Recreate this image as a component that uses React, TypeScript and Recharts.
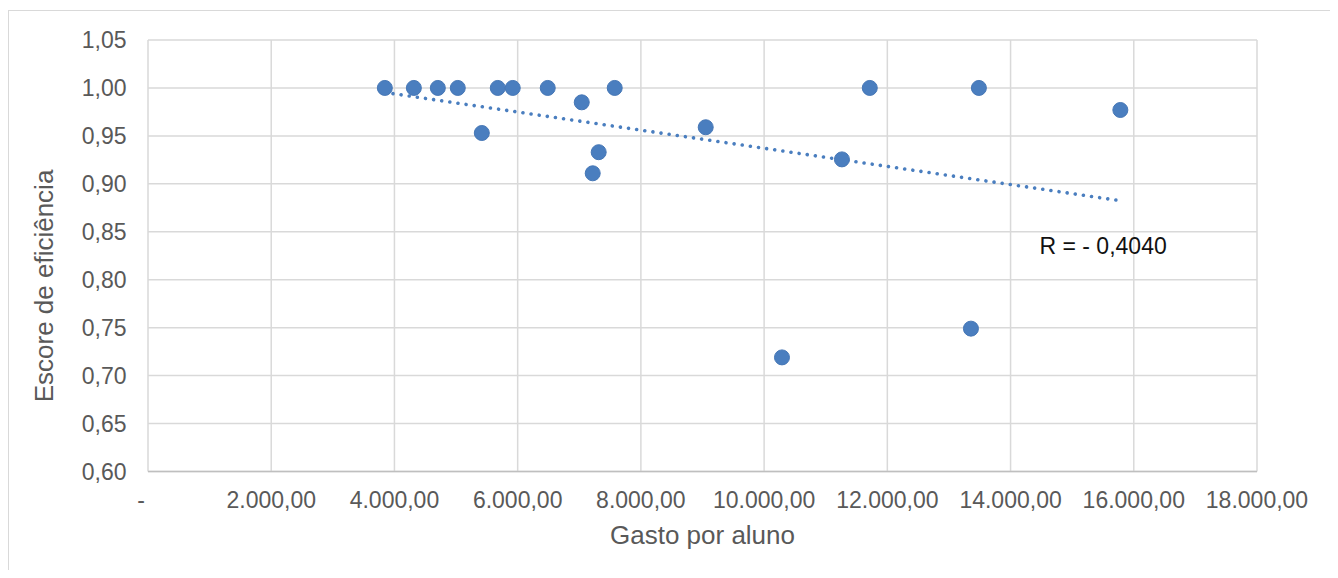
import React from 'react';
import {
  ScatterChart,
  Scatter,
  XAxis,
  YAxis,
  CartesianGrid,
  ReferenceDot,
} from 'recharts';

// Gasto por aluno (x) e escore de eficiência (y)
const gastoPorAluno = [
  3844, 4315, 4704, 5028, 5418, 5677, 5920, 6488, 7040, 7218, 7315, 7575,
  9052, 10290, 11263, 11715, 13357, 13486, 15782,
];
const escoreEficiencia = [
  1.0, 1.0, 1.0, 1.0, 0.953, 1.0, 1.0, 1.0, 0.985, 0.911, 0.933, 1.0,
  0.959, 0.719, 0.9255, 1.0, 0.749, 1.0, 0.977,
];

// Linha de tendência (extremos)
const trendX = [3844, 15782];
const trendY = [0.9953, 0.8824];

const xTicks = [0, 2000, 4000, 6000, 8000, 10000, 12000, 14000, 16000, 18000];
const yTicks = [0.6, 0.65, 0.7, 0.75, 0.8, 0.85, 0.9, 0.95, 1.0, 1.05];

const rLabelText = 'R = - 0,4040';
const rLabelPos = { x: 14470, y: 0.827 };

const xTitle = 'Gasto por aluno';
const yTitle = 'Escore de eficiência';

const points = gastoPorAluno.map((x, i) => ({ x, y: escoreEficiencia[i] }));
const trend = trendX.map((x, i) => ({ x, y: trendY[i] }));

const FONT = '"Liberation Sans", Arial, sans-serif';
const TXT = '#595959';
const BLUE = '#4a7ebf';

const fmtX = (v: number) => {
  if (v === 0) return '-';
  const s = Math.round(v).toString().replace(/\B(?=(\d{3})+(?!\d))/g, '.');
  return s + ',00';
};
const fmtY = (v: number) => v.toFixed(2).replace('.', ',');

const XTick = (props: any) => {
  const { x, y, payload } = props;
  const v = payload.value as number;
  return (
    <text
      x={x + (v === 0 ? -7 : 0)}
      y={y + 36.5}
      textAnchor="middle"
      fontFamily={FONT}
      fontSize={23}
      fill={TXT}
    >
      {fmtX(v)}
    </text>
  );
};

const YTick = (props: any) => {
  const { x, y, payload } = props;
  return (
    <text
      x={x - 21.5}
      y={y + 8.2}
      textAnchor="end"
      fontFamily={FONT}
      fontSize={23}
      fill={TXT}
    >
      {fmtY(payload.value)}
    </text>
  );
};

const XTitle = (props: any) => {
  const vb = props.viewBox || {};
  return (
    <text
      x={vb.x + vb.width / 2}
      y={536}
      textAnchor="middle"
      fontFamily={FONT}
      fontSize={26}
      fill={TXT}
    >
      {xTitle}
    </text>
  );
};

const YTitle = () => {
  const cx = 45.3;
  const cy = 278;
  return (
    <text
      x={cx}
      y={cy}
      transform={`rotate(-90 ${cx} ${cy})`}
      textAnchor="middle"
      fontFamily={FONT}
      fontSize={26}
      fill={TXT}
    >
      {yTitle}
    </text>
  );
};

const Dot = (props: any) => {
  const { cx, cy } = props;
  return <circle cx={cx} cy={cy} r={7.5} fill={BLUE} stroke="#4677b6" strokeWidth={1} />;
};

const NoShape = () => <g />;

const RLabel = (props: any) => {
  const { cx, cy } = props;
  return (
    <text x={cx} y={cy} fontFamily={FONT} fontSize={23} fill="#111">
      {rLabelText}
    </text>
  );
};

export default function App() {
  return (
    <div style={{ position: 'relative', width: 1330, height: 562, overflow: 'hidden' }}>
      <div
        style={{
          position: 'absolute',
          left: 0,
          top: 2,
          width: 1400,
          height: 700,
          borderTop: '1.5px solid #d9d9d9',
          borderLeft: '1.5px solid #d9d9d9',
          boxSizing: 'border-box',
        }}
      />
      <div style={{ position: 'absolute', left: 0, top: 0 }}>
        <ScatterChart
          width={1330}
          height={562}
          margin={{ top: 32, right: 81, left: 0, bottom: 0 }}
        >
          <CartesianGrid stroke="#d9d9d9" strokeWidth={1.5} />
          <XAxis
            type="number"
            dataKey="x"
            domain={[0, 18000]}
            ticks={xTicks}
            interval={0}
            height={98.5}
            tickSize={0}
            tickMargin={0}
            tickLine={false}
            axisLine={{ stroke: '#bfbfbf', strokeWidth: 1.5 }}
            tick={<XTick />}
            label={{ content: <XTitle /> }}
            allowDataOverflow
          />
          <YAxis
            type="number"
            dataKey="y"
            domain={[0.6, 1.05]}
            ticks={yTicks}
            interval={0}
            width={140}
            tickSize={0}
            tickMargin={0}
            tickLine={false}
            axisLine={false}
            tick={<YTick />}
            label={{ content: <YTitle /> }}
            allowDataOverflow
          />
          <Scatter
            data={trend}
            isAnimationActive={false}
            shape={<NoShape />}
            line={{
              stroke: BLUE,
              strokeWidth: 3.6,
              strokeDasharray: '0.01 8.2',
              strokeLinecap: 'round',
            }}
          />
          <Scatter
            data={points}
            isAnimationActive={false}
            shape={<Dot />}
          />
          <ReferenceDot
            x={rLabelPos.x}
            y={rLabelPos.y}
            r={0}
            ifOverflow="visible"
            shape={<RLabel />}
          />
        </ScatterChart>
      </div>
    </div>
  );
}
